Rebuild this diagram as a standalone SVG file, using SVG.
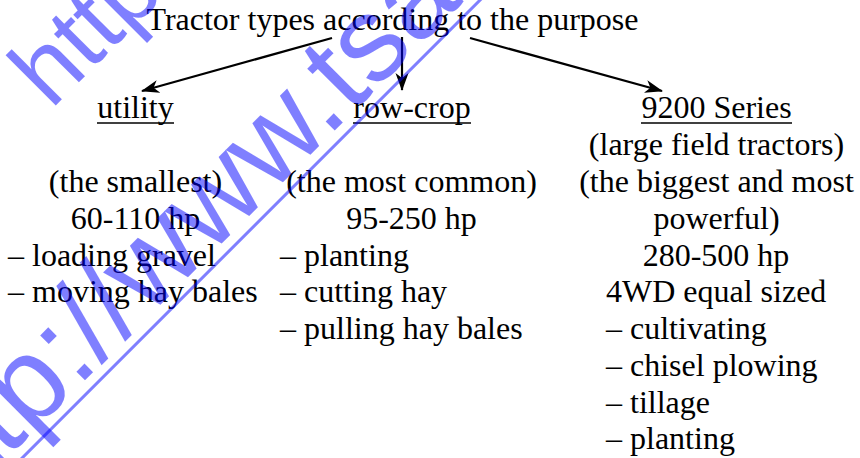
<svg xmlns="http://www.w3.org/2000/svg" width="860" height="458" viewBox="0 0 860 458">
  <defs>
    <style>
      .t{font-family:"Liberation Serif","Times New Roman",serif;font-size:32px;fill:#000}
      .c{text-anchor:middle}
      .ul{stroke:#000;stroke-width:1.6}
      .edge{stroke:#000;stroke-width:2.2;fill:none;marker-end:url(#ah)}
      .wm{font-family:"Liberation Sans",Arial,sans-serif;fill:#0000ff;fill-opacity:0.5}
      .wmline{stroke:#0000ff;stroke-opacity:0.5;stroke-width:3}
    </style>
    <marker id="ah" markerUnits="userSpaceOnUse" viewBox="0 0 18 14" refX="17" refY="7" markerWidth="18" markerHeight="14" orient="auto">
      <path d="M0,0.5 L18,7 L0,13.5 L5,7 Z" fill="#000"/>
    </marker>
  </defs>
  <rect width="860" height="458" fill="#fff"/>

  <!-- root -->
  <g id="root">
    <text class="t c" x="392.5" y="30">Tractor types according to the purpose</text>
  </g>

  <!-- connectors -->
  <g id="connectors">
    <line class="edge" x1="332" y1="38" x2="142" y2="91"/>
    <line class="edge" x1="402" y1="37" x2="402" y2="90"/>
    <line class="edge" x1="470" y1="38" x2="662" y2="91"/>
  </g>

  <!-- utility -->
  <g id="utility">
    <text class="t c" x="135.5" y="118">utility</text>
    <line class="ul" x1="97" y1="123" x2="174" y2="123"/>
    <text class="t c" x="135.5" y="192">(the smallest)</text>
    <text class="t c" x="135.5" y="229">60-110 hp</text>
    <text class="t" x="8" y="266">– loading gravel</text>
    <text class="t" x="8" y="302">– moving hay bales</text>
  </g>

  <!-- row-crop -->
  <g id="row-crop">
    <text class="t c" x="412" y="118">row-crop</text>
    <line class="ul" x1="353" y1="123" x2="471" y2="123"/>
    <text class="t c" x="411.5" y="192">(the most common)</text>
    <text class="t c" x="411.5" y="229">95-250 hp</text>
    <text class="t" x="280" y="266">– planting</text>
    <text class="t" x="280" y="302">– cutting hay</text>
    <text class="t" x="280" y="339">– pulling hay bales</text>
  </g>

  <!-- 9200 Series -->
  <g id="series9200">
    <text class="t c" x="716.5" y="118">9200 Series</text>
    <line class="ul" x1="641" y1="123" x2="792" y2="123"/>
    <text class="t c" x="716.5" y="155">(large field tractors)</text>
    <text class="t c" x="716.5" y="192">(the biggest and most</text>
    <text class="t c" x="716.5" y="229">powerful)</text>
    <text class="t c" x="716" y="266">280-500 hp</text>
    <text class="t" x="606" y="302">4WD equal sized</text>
    <text class="t" x="606" y="339">– cultivating</text>
    <text class="t" x="606" y="376">– chisel plowing</text>
    <text class="t" x="606" y="413">– tillage</text>
    <text class="t" x="606" y="449">– planting</text>
  </g>

  <!-- diagonal link watermark -->
  <g id="watermark" transform="rotate(-45)">
    <text class="wm" x="-42" y="114" font-size="98">http</text>
    <text class="wm" x="-420" y="329" font-size="120">http://www.tsa</text>
    <line class="wmline" x1="-345" y1="339.5" x2="345" y2="339.5"/>
  </g>
</svg>
